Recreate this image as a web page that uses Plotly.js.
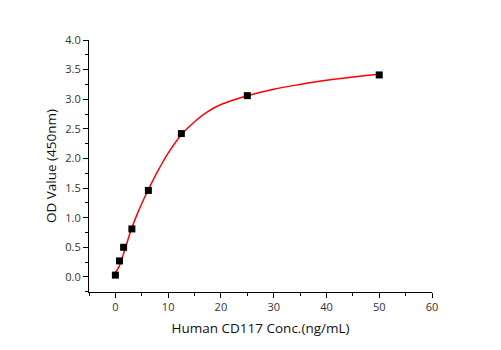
<!DOCTYPE html>
<html>
<head>
<meta charset="utf-8">
<script src="https://cdn.plot.ly/plotly-3.0.1.min.js"></script>
<style>html,body{margin:0;padding:0;background:#fff;}#chart{width:501px;height:350px;}</style>
</head>
<body>
<div id="chart"></div>
<script>
// Measured standard points
const concentration = [0, 0.78, 1.56, 3.125, 6.25, 12.5, 25, 50];
const odValue = [0.03, 0.27, 0.50, 0.81, 1.46, 2.42, 3.06, 3.41];

// Fitted curve
const fitConc = [0, 0.5, 1, 1.5, 2, 3, 4, 5, 6, 7, 8, 9, 10, 12.5, 15, 17.5, 20, 25, 30, 35, 40, 45, 50];
const fitOD = [0.08, 0.14, 0.24, 0.38, 0.52, 0.80, 1.03, 1.24, 1.43, 1.61, 1.78, 1.94, 2.09, 2.40, 2.62, 2.79, 2.91, 3.06, 3.17, 3.25, 3.32, 3.375, 3.42];

const xTitle = 'Human CD117 Conc.(ng/mL)';
const yTitle = 'OD Value (450nm)';

const traces = [
  {x: fitConc, y: fitOD, type: 'scatter', mode: 'lines',
   line: {color: '#ff0000', width: 1.5, shape: 'spline', smoothing: 1}, hoverinfo: 'skip'},
  {x: concentration, y: odValue, type: 'scatter', mode: 'markers',
   marker: {symbol: 'square', size: 7, color: '#000'}}
];

const fontFam = 'Open Sans, Noto Sans, sans-serif';
const layout = {
  width: 501, height: 350,
  margin: {l: 89, r: 69, t: 40, b: 58},
  paper_bgcolor: '#fff', plot_bgcolor: '#fff',
  showlegend: false,
  font: {family: fontFam, color: '#222'},
  xaxis: {
    range: [-5, 60], tick0: 0, dtick: 10,
    showgrid: false, zeroline: false,
    showline: true, linecolor: '#000', linewidth: 1,
    ticks: 'outside', ticklen: 5, tickcolor: '#000', tickwidth: 1,
    minor: {dtick: 5, ticks: 'outside', ticklen: 3, tickcolor: '#000', showgrid: false},
    tickfont: {size: 11, family: fontFam, color: '#333'},
    title: {text: xTitle, font: {size: 13.5, family: fontFam, color: '#111'}, standoff: 10}
  },
  yaxis: {
    range: [-0.255, 4.0], tick0: 0, dtick: 0.5, tickformat: '.1f',
    showgrid: false, zeroline: false,
    showline: true, linecolor: '#000', linewidth: 1,
    ticks: 'outside', ticklen: 5, tickcolor: '#000', tickwidth: 1,
    minor: {dtick: 0.25, ticks: 'outside', ticklen: 3, tickcolor: '#000', showgrid: false},
    tickfont: {size: 11, family: fontFam, color: '#333'},
    title: {text: yTitle, font: {size: 13.5, family: fontFam, color: '#111'}, standoff: 5}
  }
};

Plotly.newPlot('chart', traces, layout, {staticPlot: true, displayModeBar: false});
</script>
</body>
</html>
